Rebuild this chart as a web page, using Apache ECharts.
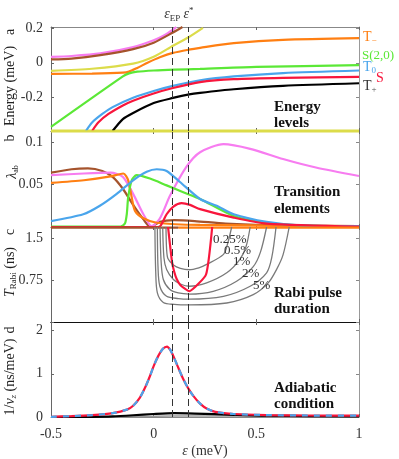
<!DOCTYPE html>
<html>
<head>
<meta charset="utf-8">
<script src="https://cdn.jsdelivr.net/npm/echarts@6/dist/echarts.min.js"></script>
<style>
  html, body {margin: 0; padding: 0; background: #fff;}
  #main {width: 399px; height: 459px;}
</style>
</head>
<body>
<div id="main"></div>
<script>
  // ---- data, x = detuning epsilon (meV) ----
  var epsEP = 0.094
  var epsStar = 0.173

  // a: energy levels (meV)
  var enMagenta = [[-0.5, 0.035], [-0.4, 0.04], [-0.26, 0.055], [-0.1, 0.092], [0, 0.132], [0.05, 0.16], [0.094, 0.194], [0.11, 0.21]]
  var enBrown = [[-0.5, 0.02], [-0.4, 0.025], [-0.26, 0.045], [-0.1, 0.08], [0, 0.118], [0.094, 0.178], [0.14, 0.21]]
  var enYellow = [[-0.5, -0.047], [-0.3, -0.035], [-0.1, -0.005], [0, 0.035], [0.094, 0.1], [0.17, 0.15], [0.24, 0.205]]
  var enOrange = [[-0.5, -0.065], [-0.3, -0.063], [-0.15, -0.058], [-0.12, -0.052], [-0.08, -0.03], [-0.03, 0.0], [0.03, 0.032], [0.094, 0.058], [0.17, 0.077], [0.226, 0.088], [0.39, 0.115], [0.63, 0.135], [1.0, 0.145]]
  var enGreen = [[-0.5, -0.376], [-0.15, -0.08], [-0.12, -0.062], [-0.08, -0.052], [0, -0.045], [0.1, -0.04], [0.226, -0.036], [0.5, -0.024], [1.0, -0.014]]
  var enBlue = [[-0.33, -0.4], [-0.3, -0.35], [-0.25, -0.3], [-0.2, -0.26], [-0.1, -0.205], [0, -0.165], [0.094, -0.135], [0.226, -0.103], [0.39, -0.08], [0.63, -0.06], [1.0, -0.045]]
  var enRed = [[-0.3, -0.4], [-0.27, -0.35], [-0.22, -0.3], [-0.15, -0.25], [-0.1, -0.222], [0, -0.18], [0.094, -0.148], [0.226, -0.113], [0.39, -0.096], [0.63, -0.088], [1.0, -0.082]]
  var enBlack = [[-0.2, -0.4], [-0.15, -0.33], [-0.1, -0.294], [0, -0.236], [0.094, -0.206], [0.173, -0.185], [0.226, -0.176], [0.39, -0.155], [0.63, -0.135], [1.0, -0.12]]
  var enFloor = [[-0.5, -0.397], [1.0, -0.397]]

  // b: transition elements lambda_ab
  var lamBrown = [[-0.5, 0.064], [-0.4, 0.068], [-0.32, 0.069], [-0.25, 0.066], [-0.2, 0.059], [-0.15, 0.045], [-0.1, 0.026], [-0.05, 0.009], [-0.015, 0.0], [0.03, 0.006], [0.1, 0.008], [0.2, 0.007], [0.35, 0.004], [0.6, 0.002], [1.0, 0.001]]
  var lamMagenta = [[-0.5, 0.061], [-0.34, 0.063], [-0.21, 0.064], [-0.15, 0.059], [-0.1, 0.039], [-0.05, 0.015], [-0.01, 0.001], [0.03, 0.01], [0.08, 0.037], [0.16, 0.071], [0.226, 0.088], [0.34, 0.0975], [0.47, 0.092], [0.63, 0.08], [0.79, 0.07], [1.0, 0.06]]
  var lamOrange = [[-0.5, 0.052], [-0.34, 0.055], [-0.21, 0.0595], [-0.148, 0.063], [-0.124, 0.055], [-0.107, 0.035], [-0.091, 0.019], [-0.05, 0.0103], [0.015, 0.005], [0.226, 0.0024], [1.0, 0.001]]
  var lamGreen = [[-0.5, 0.0005], [-0.16, 0.0008], [-0.14, 0.004], [-0.131, 0.015], [-0.124, 0.035], [-0.107, 0.055], [-0.083, 0.061], [-0.018, 0.057], [0.063, 0.049], [0.144, 0.041], [0.226, 0.033], [0.39, 0.013], [0.55, 0.005], [0.71, 0.002], [1.0, 0.0005]]
  var lamBlue = [[-0.5, 0.007], [-0.343, 0.015], [-0.262, 0.025], [-0.18, 0.039], [-0.1, 0.055], [-0.034, 0.065], [0.015, 0.068], [0.063, 0.066], [0.128, 0.053], [0.226, 0.033], [0.307, 0.025], [0.39, 0.015], [0.55, 0.006], [0.71, 0.002], [1.0, 0.001]]
  var lamRed = [[-0.5, 0.0], [0.02, 0.0], [0.035, 0.002], [0.063, 0.015], [0.096, 0.024], [0.136, 0.028], [0.177, 0.026], [0.226, 0.021], [0.39, 0.011], [0.55, 0.004], [1.0, 0.0005]]
  var lamYellow = [[-0.5, 0.1125], [1.0, 0.1125]]

  // c: Rabi pulse duration (ns), grey = leakage contours
  var rabiRed = [[0.07, 1.7], [0.082, 1.3], [0.09, 1.06], [0.1, 0.9], [0.112, 0.77], [0.13, 0.66], [0.15, 0.6], [0.173, 0.55], [0.255, 0.85], [0.285, 1.7]]
  var rabi025 = [[0.06, 1.7], [0.063, 1.3], [0.07, 1.13], [0.096, 1.02], [0.13, 0.96], [0.173, 0.935], [0.22, 0.97], [0.258, 1.03], [0.34, 1.21], [0.36, 1.4], [0.38, 1.7]]
  var rabi05 = [[0.044, 1.7], [0.05, 1.15], [0.063, 0.94], [0.096, 0.76], [0.13, 0.68], [0.173, 0.64], [0.258, 0.7], [0.356, 0.88], [0.42, 1.12], [0.45, 1.35], [0.47, 1.7]]
  var rabi1 = [[0.031, 1.7], [0.036, 1.1], [0.047, 0.76], [0.079, 0.58], [0.12, 0.52], [0.173, 0.5], [0.29, 0.55], [0.404, 0.73], [0.485, 0.99], [0.52, 1.25], [0.55, 1.7]]
  var rabi2 = [[0.018, 1.7], [0.021, 1.0], [0.03, 0.64], [0.063, 0.46], [0.12, 0.42], [0.173, 0.41], [0.34, 0.46], [0.47, 0.64], [0.55, 0.88], [0.575, 1.15], [0.596, 1.7]]
  var rabi5 = [[0.006, 1.7], [0.01, 0.9], [0.018, 0.52], [0.047, 0.35], [0.1, 0.315], [0.173, 0.305], [0.356, 0.34], [0.485, 0.49], [0.558, 0.7], [0.6, 0.95], [0.63, 1.2], [0.66, 1.7]]
  var rabiTopBrown = [[-0.5, 1.69], [0.12, 1.69]]
  var rabiTopOrange = [[0.12, 1.69], [1.0, 1.69]]
  var rabiPct = ['0.25%', '0.5%', '1%', '2%', '5%']

  // d: adiabatic condition 1/v_z (ns/meV)
  var adiab = [[-0.5, 0.005], [-0.4, 0.02], [-0.3, 0.045], [-0.2, 0.09], [-0.13, 0.17], [-0.1, 0.26], [-0.067, 0.45], [-0.04, 0.7], [-0.018, 0.95], [0.0, 1.18], [0.022, 1.41], [0.045, 1.58], [0.065, 1.63], [0.08, 1.56], [0.096, 1.41], [0.12, 1.14], [0.144, 0.88], [0.17, 0.65], [0.193, 0.49], [0.226, 0.31], [0.26, 0.19], [0.3, 0.12], [0.39, 0.07], [0.55, 0.045], [0.75, 0.035], [1.0, 0.03]]
  var adiabBlack = [[-0.5, 0.0], [-0.3, 0.005], [-0.2, 0.015], [-0.1, 0.04], [0, 0.07], [0.1, 0.09], [0.2, 0.08], [0.39, 0.05], [0.55, 0.03], [1.0, 0.015]]
  var adiabGrey = [[-0.5, 0.0], [0, 0.015], [0.2, 0.025], [0.5, 0.018], [1.0, 0.01]]

  // tick labels
  var xTicks = [-0.5, 0, 0.5, 1]
  var ticksA = [0.2, 0, -0.2]
  var ticksB = [0.1, 0.05]
  var ticksC = [1.5, 0.75]
  var ticksD = [2, 1, 0]

  var C = {
    magenta: '#f77cf0', brown: '#a5532c', yellow: '#dcdc4a', orange: '#ff7f12',
    green: '#5be836', blue: '#4aa5ec', red: '#f8163c', black: '#000', grey: '#7a7a7a'
  }
  var FONT = 'Liberation Serif'

  // panel layout: [top, height]
  var grids = [[27, 104], [131, 96], [227, 95], [322, 96]]
  var yRanges = [[-0.4, 0.21, 0.2], [0, 0.113, 0.05], [0, 1.7, 0.75], [0, 2.2, 1]]
  var yTickSets = [ticksA, ticksB, ticksC, ticksD]

  function pick(list) {
    return function (v) {
      for (var i = 0; i < list.length; i++) {
        if (Math.abs(list[i] - v) < 1e-9) return String(list[i])
      }
      return ''
    }
  }

  function setupAxes() {
    var xAxis = [], yAxis = []
    grids.forEach(function (g, i) {
      var last = i == grids.length - 1
      // bottom x
      xAxis.push({
        type: 'value', gridIndex: i, min: -0.5, max: 1, interval: 0.5, position: 'bottom',
        axisLine: {show: true, onZero: false, lineStyle: {color: i == 2 ? '#111' : '#888'}},
        axisTick: {show: true, inside: true, length: 3, lineStyle: {color: '#666'}},
        axisLabel: {show: last, margin: 10, fontFamily: FONT, fontSize: 14, color: '#333', formatter: pick(xTicks)},
        splitLine: {show: false},
        name: last ? '{i|ε} (meV)' : '', nameLocation: 'middle', nameGap: 27,
        nameTextStyle: {fontFamily: FONT, fontSize: 14, color: '#333', rich: {i: {fontStyle: 'italic', fontFamily: FONT, fontSize: 14}}}
      })
      // top x (mirror box)
      xAxis.push({
        type: 'value', gridIndex: i, min: -0.5, max: 1, interval: 0.5, position: 'top',
        axisLine: {show: true, onZero: false, lineStyle: {color: i == 3 ? '#111' : '#888'}},
        axisTick: {show: true, inside: true, length: 3, lineStyle: {color: '#666'}},
        axisLabel: {show: false}, splitLine: {show: false}
      })
      var r = yRanges[i]
      yAxis.push({
        type: 'value', gridIndex: i, min: r[0], max: r[1], interval: r[2], position: 'left',
        axisLine: {show: true, onZero: false, lineStyle: {color: '#666'}},
        axisTick: {show: true, inside: true, length: 3, lineStyle: {color: '#666'}},
        axisLabel: {margin: 8, fontFamily: FONT, fontSize: 14, color: '#333', formatter: pick(yTickSets[i])},
        splitLine: {show: false}
      })
      yAxis.push({
        type: 'value', gridIndex: i, min: r[0], max: r[1], interval: r[2], position: 'right',
        axisLine: {show: true, onZero: false, lineStyle: {color: '#999'}},
        axisTick: {show: true, inside: true, length: 3, lineStyle: {color: '#888'}},
        axisLabel: {show: false}, splitLine: {show: false}
      })
    })
    return {xAxis: xAxis, yAxis: yAxis}
  }

  function line(data, color, panel, extra) {
    var s = {
      type: 'line', data: data, xAxisIndex: panel * 2, yAxisIndex: panel * 2,
      symbol: 'none', smooth: 0.25, silent: true,
      lineStyle: {color: color, width: 2.2}, z: 3
    }
    for (var k in extra) s[k] = extra[k]
    return s
  }

  function dashed(panel, labels) {
    // vertical marker lines at eps_EP and eps*
    return {
      type: 'line', data: [], xAxisIndex: panel * 2, yAxisIndex: panel * 2, silent: true,
      markLine: {
        symbol: 'none', silent: true, animation: false,
        lineStyle: {color: '#333', width: 1, type: [7, 4]},
        label: {show: labels, position: 'end', distance: 4, fontFamily: FONT, fontSize: 14, color: '#333',
          rich: {i: {fontStyle: 'italic', fontFamily: FONT, fontSize: 14, color: '#333'},
                 s: {fontFamily: FONT, fontSize: 9, color: '#333', padding: [8, 0, 0, 0]},
                 u: {fontFamily: FONT, fontSize: 9, color: '#333', padding: [0, 0, 8, 0]}}},
        data: [
          {xAxis: epsEP, label: {formatter: '{i|ε}{s|EP}'}},
          {xAxis: epsStar, label: {formatter: '{i|ε}{u|*}'}}
        ]
      },
      z: 5
    }
  }

  function setupSeries() {
    var grey = {smooth: 0.3, lineStyle: {color: C.grey, width: 1.3}}
    return [
      // a
      line(enFloor, C.yellow, 0, {smooth: false}),
      line(enMagenta, C.magenta, 0), line(enBrown, C.brown, 0), line(enYellow, C.yellow, 0),
      line(enOrange, C.orange, 0), line(enGreen, C.green, 0), line(enBlue, C.blue, 0),
      line(enRed, C.red, 0), line(enBlack, C.black, 0),
      dashed(0, true),
      // b
      line(lamYellow, C.yellow, 1, {smooth: false}),
      line(lamBrown, C.brown, 1), line(lamMagenta, C.magenta, 1), line(lamOrange, C.orange, 1),
      line(lamGreen, C.green, 1), line(lamBlue, C.blue, 1), line(lamRed, C.red, 1),
      dashed(1, false),
      // c
      line(rabiTopBrown, C.brown, 2, {smooth: false}), line(rabiTopOrange, C.orange, 2, {smooth: false}),
      line(rabi025, C.grey, 2, grey), line(rabi05, C.grey, 2, grey), line(rabi1, C.grey, 2, grey),
      line(rabi2, C.grey, 2, grey), line(rabi5, C.grey, 2, grey),
      line(rabiRed, C.red, 2, {smooth: 0.15}),
      dashed(2, false),
      // d
      line(adiabGrey, '#999', 3, {lineStyle: {color: '#999', width: 1.5}}),
      line(adiabBlack, C.black, 3),
      line(adiab, C.red, 3, {lineStyle: {color: C.red, width: 2.2}}),
      line(adiab, C.blue, 3, {lineStyle: {color: C.blue, width: 2.2, type: [6, 6]}, z: 4}),
      dashed(3, false)
    ]
  }

  function txt(x, y, text, opt) {
    var style = {x: x, y: y, text: text, fontFamily: FONT, fontSize: 14, fill: '#222', align: 'left', verticalAlign: 'middle'}
    for (var k in opt) style[k] = opt[k]
    return {type: 'text', style: style, z: 10, silent: true}
  }

  function vtxt(x, y, text, rich) {
    var t = txt(0, 0, text, {align: 'center', rich: rich || {}})
    t.x = x; t.y = y; t.rotation = Math.PI / 2
    return t
  }

  function setupGraphic() {
    var bold = {fontWeight: 'bold', fontSize: 15, fill: '#111'}
    var g = [
      // right-hand state labels
      txt(363, 37, '{m|T}{s|−}', {rich: {m: {fill: C.orange, fontSize: 14, fontFamily: FONT}, s: {fill: C.orange, fontSize: 9, fontFamily: FONT, padding: [8, 0, 0, 0]}}}),
      txt(362, 56, 'S(2,0)', {fill: C.green, fontSize: 13}),
      txt(363, 67, '{m|T}{s|0}', {rich: {m: {fill: C.blue, fontSize: 14, fontFamily: FONT}, s: {fill: C.blue, fontSize: 9, fontFamily: FONT, padding: [8, 0, 0, 0]}}}),
      txt(376, 78, 'S', {fill: C.red}),
      txt(363, 86, '{m|T}{s|+}', {rich: {m: {fill: '#333', fontSize: 14, fontFamily: FONT}, s: {fill: '#555', fontSize: 9, fontFamily: FONT, padding: [8, 0, 0, 0]}}}),
      // panel captions
      txt(274, 107, 'Energy', bold), txt(274, 123, 'levels', bold),
      txt(274, 192, 'Transition', bold), txt(274, 209, 'elements', bold),
      txt(274, 293, 'Rabi pulse', bold), txt(274, 309, 'duration', bold),
      txt(274, 388, 'Adiabatic', bold), txt(274, 404, 'condition', bold),
      // y axis names and panel letters
      vtxt(10, 86, 'Energy (meV)'), vtxt(10, 32, 'a'),
      vtxt(12, 172, '{i|λ}{s|ab}', {i: {fontStyle: 'italic', fontFamily: FONT, fontSize: 14}, s: {fontFamily: FONT, fontSize: 8, padding: [8, 0, 0, 0]}}),
      vtxt(10, 138, 'b'),
      vtxt(10, 272, '{i|T}{s|Rabi} (ns)', {i: {fontStyle: 'italic', fontFamily: FONT, fontSize: 14}, s: {fontFamily: FONT, fontSize: 9, padding: [8, 0, 0, 0]}}),
      vtxt(10, 232, 'c'),
      vtxt(10, 377, '1/{i|v}{s|z} (ns/meV)', {i: {fontStyle: 'italic', fontFamily: FONT, fontSize: 14}, s: {fontFamily: FONT, fontSize: 9, fontStyle: 'italic', padding: [8, 0, 0, 0]}}),
      vtxt(10, 330, 'd')
    ]
    // percentage labels along the grey contours
    var pctPos = [[213, 240], [224, 251], [233, 262], [242, 274], [253, 286]]
    rabiPct.forEach(function (p, i) {
      g.push(txt(pctPos[i][0], pctPos[i][1], p, {fontSize: 13, fill: '#333'}))
    })
    return g
  }

  var chart = echarts.init(document.getElementById('main'))
  var axes = setupAxes()
  chart.setOption({
    animation: false,
    backgroundColor: '#fff',
    grid: grids.map(function (g) { return {left: 51, right: 40, top: g[0], height: g[1]} }),
    xAxis: axes.xAxis,
    yAxis: axes.yAxis,
    series: setupSeries(),
    graphic: setupGraphic()
  })
</script>
</body>
</html>
